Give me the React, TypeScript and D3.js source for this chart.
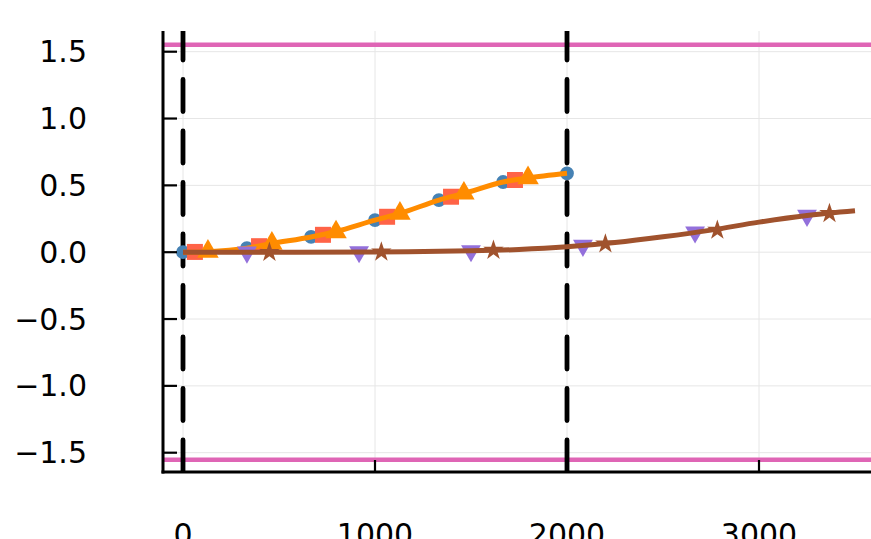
import React from "react";
import * as d3 from "d3";

// ---- data ----
const xTicks = [0, 1000, 2000, 3000];
const yTicks = [-1.5, -1.0, -0.5, 0.0, 0.5, 1.0, 1.5];
const yTickLabels = ["\u22121.5", "\u22121.0", "\u22120.5", "0.0", "0.5", "1.0", "1.5"];

const hLines = [1.552, -1.552];
const vLines = [0, 2000];

const blueX = [0, 333, 667, 1000, 1333, 1667, 2000];
const blueY = [0, 0.03, 0.114, 0.24, 0.39, 0.525, 0.59];

const orangeLineX = [0, 130, 333, 463, 667, 797, 1000, 1130, 1333, 1463, 1667, 1797, 2000];
const orangeLineY = [0, 0.004, 0.03, 0.065, 0.114, 0.155, 0.24, 0.29, 0.39, 0.44, 0.525, 0.555, 0.59];

const redX = [62, 396, 729, 1063, 1396, 1729];
const redY = [0.002, 0.045, 0.13, 0.265, 0.415, 0.54];

const triX = [130, 463, 797, 1130, 1463, 1797];
const triY = [0.005, 0.065, 0.15, 0.29, 0.44, 0.555];

const brownLineX = [0, 500, 1000, 1500, 1750, 2000, 2250, 2500, 2750, 3000, 3250, 3500];
const brownLineY = [0, 0, 0.002, 0.01, 0.02, 0.04, 0.072, 0.115, 0.165, 0.225, 0.275, 0.31];

const purpleX = [333, 917, 1500, 2083, 2667, 3250];
const purpleY = [0, 0.002, 0.01, 0.05, 0.15, 0.275];

const starX = [450, 1033, 1617, 2200, 2783, 3367];
const starY = [0, 0.002, 0.015, 0.062, 0.165, 0.29];

// ---- layout ----
const W = 871;
const H = 539;
const left = 163;
const top = 31;
const bottom = 472;
const right = 871;

const x = d3.scaleLinear().domain([0, 3000]).range([183, 759]);
const y = d3.scaleLinear().domain([-1.5, 1.5]).range([452.7, 51.7]);

const FONT = "DejaVu Sans";

export default function App() {
  const line = d3
    .line<[number, number]>()
    .x((d) => x(d[0]))
    .y((d) => y(d[1]))
    .curve(d3.curveCatmullRom.alpha(0.5));

  const orangePts = orangeLineX.map((v, i) => [v, orangeLineY[i]] as [number, number]);
  const brownPts = brownLineX.map((v, i) => [v, brownLineY[i]] as [number, number]);

  const circle = d3.symbol().type(d3.symbolCircle).size(150)()!;
  const square = d3.symbol().type(d3.symbolSquare).size(256)()!;
  const triangle = d3.symbol().type(d3.symbolTriangle).size(200)()!;
  const downTri = d3.symbol().type(d3.symbolTriangle).size(170)()!;
  const star = d3.symbol().type(d3.symbolStar).size(130)()!;

  return (
    <svg
      width={W}
      height={H}
      style={{ position: "absolute", left: 0, top: 0, background: "#fff" }}
    >
      <defs>
        <clipPath id="plotclip">
          <rect x={left} y={top} width={right - left} height={bottom - top} />
        </clipPath>
      </defs>

      {/* grid */}
      <g stroke="#e6e6e6" strokeWidth={1}>
        {xTicks.map((t) => (
          <line key={"gx" + t} x1={x(t)} x2={x(t)} y1={top} y2={bottom} />
        ))}
        {yTicks.map((t) => (
          <line key={"gy" + t} x1={left} x2={right} y1={y(t)} y2={y(t)} />
        ))}
      </g>

      <g clipPath="url(#plotclip)">
        {/* horizontal magenta lines */}
        {hLines.map((h, i) => (
          <line key={"h" + i} x1={left} x2={right} y1={y(h)} y2={y(h)} stroke="#DF65B5" strokeWidth={4.5} />
        ))}
        {/* vertical dashed lines */}
        {vLines.map((v, i) => (
          <line
            key={"v" + i}
            x1={x(v)}
            x2={x(v)}
            y1={bottom}
            y2={top}
            stroke="#000"
            strokeWidth={4.8}
            strokeDasharray="32 19.5"
            strokeLinecap="round"
          />
        ))}

        {/* blue circles */}
        {blueX.map((v, i) => (
          <path key={"b" + i} d={circle} transform={`translate(${x(v)},${y(blueY[i])})`} fill="#4682B4" />
        ))}
        {/* red squares */}
        {redX.map((v, i) => (
          <path key={"r" + i} d={square} transform={`translate(${x(v)},${y(redY[i])})`} fill="#FF6347" />
        ))}
        {/* orange line + triangles */}
        <path d={line(orangePts)!} fill="none" stroke="#FF8C00" strokeWidth={5} />
        {triX.map((v, i) => (
          <path key={"t" + i} d={triangle} transform={`translate(${x(v)},${y(triY[i])})`} fill="#FF8C00" />
        ))}

        {/* purple down triangles */}
        {purpleX.map((v, i) => (
          <path
            key={"p" + i}
            d={downTri}
            transform={`translate(${x(v)},${y(purpleY[i])}) rotate(180)`}
            fill="#9370DB"
          />
        ))}
        {/* brown line + stars */}
        <path d={line(brownPts)!} fill="none" stroke="#A0522D" strokeWidth={5} />
        {starX.map((v, i) => (
          <path key={"s" + i} d={star} transform={`translate(${x(v)},${y(starY[i])})`} fill="#A0522D" />
        ))}
      </g>

      {/* axes */}
      <g stroke="#000">
        <line x1={left} x2={left} y1={top} y2={bottom + 1.5} strokeWidth={3} />
        <line x1={left - 1.5} x2={right} y1={bottom} y2={bottom} strokeWidth={3} />
        {yTicks.map((t) => (
          <line key={"ty" + t} x1={left} x2={left + 14} y1={y(t)} y2={y(t)} strokeWidth={2.2} />
        ))}
        {xTicks.map((t) => (
          <line key={"tx" + t} x1={x(t)} x2={x(t)} y1={bottom} y2={bottom - 12} strokeWidth={2.2} />
        ))}
      </g>

      {/* tick labels */}
      <g fontFamily={FONT} fontSize={30} fill="#000">
        {yTicks.map((t, i) => (
          <text key={"ly" + t} x={87} y={y(t)} textAnchor="end" dominantBaseline="central">
            {yTickLabels[i]}
          </text>
        ))}
        {xTicks.map((t) => (
          <text key={"lx" + t} x={x(t)} y={545} textAnchor="middle">
            {String(t)}
          </text>
        ))}
      </g>
    </svg>
  );
}
